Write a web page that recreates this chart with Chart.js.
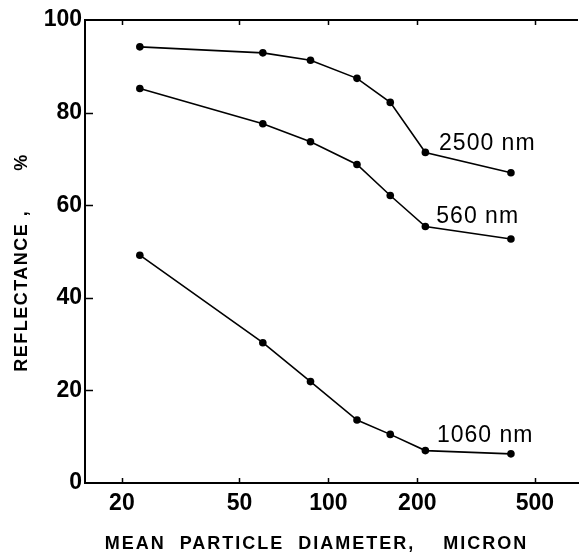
<!DOCTYPE html>
<html lang="en">
<head>
  <meta charset="UTF-8" />
  <title>Reflectance vs mean particle diameter</title>
  <script src="https://cdn.jsdelivr.net/npm/chart.js"></script>
  <style>
    html, body { margin: 0; padding: 0; background: #fff; }
  </style>
</head>
<body>
  <canvas id="reflChart" width="582" height="554"></canvas>

  <script>
    // mean particle diameter (micron), shared by all three curves
    const diameters = [23, 60, 87, 125, 162, 213, 415];

    // reflectance (%) per wavelength
    const refl2500 = [94.2, 92.9, 91.3, 87.4, 82.2, 71.4, 67.0];
    const refl560 = [85.2, 77.6, 73.7, 68.8, 62.1, 55.4, 52.7];
    const refl1060 = [49.2, 30.3, 21.9, 13.6, 10.5, 7.0, 6.3];

    const xTicks = [20, 50, 100, 200, 500];
    const yTicks = [0, 20, 40, 60, 80, 100];

    const xTitle = 'MEAN  PARTICLE  DIAMETER,    MICRON';
    const yTitle = 'REFLECTANCE ,      %';

    const FONT = '"Liberation Sans", Arial, sans-serif';

    function toPoints(ys) {
      return diameters.map((d, i) => ({ x: d, y: ys[i] }));
    }

    function curve(label, ys, tag) {
      return {
        label: label,
        data: toPoints(ys),
        tag: tag, // where the curve name sits, in data units
        borderColor: '#000',
        borderWidth: 1.6,
        pointRadius: 3.8,
        pointBackgroundColor: '#000',
        pointBorderWidth: 0,
        tension: 0
      };
    }

    // frame top line, inward tick marks, curve names and axis titles
    const paperFrame = {
      id: 'paperFrame',
      afterDraw(chart) {
        const { ctx, chartArea: a, scales: { x, y } } = chart;
        ctx.save();
        ctx.strokeStyle = '#000';
        ctx.fillStyle = '#000';

        ctx.lineWidth = 2;
        ctx.beginPath();
        ctx.moveTo(a.left - 1, a.top);
        ctx.lineTo(a.right, a.top);
        ctx.stroke();

        ctx.lineWidth = 1.5;
        ctx.beginPath();
        xTicks.forEach(v => {
          const px = Math.round(x.getPixelForValue(v)) + 0.5;
          ctx.moveTo(px, a.top);
          ctx.lineTo(px, a.top + 5);
          ctx.moveTo(px, a.bottom);
          ctx.lineTo(px, a.bottom - 5);
        });
        yTicks.slice(1, -1).forEach(v => {
          const py = Math.round(y.getPixelForValue(v)) + 0.5;
          ctx.moveTo(a.left, py);
          ctx.lineTo(a.left + 8, py);
        });
        ctx.stroke();

        ctx.font = '23px ' + FONT;
        ctx.textAlign = 'left';
        ctx.textBaseline = 'middle';
        ctx.letterSpacing = '1px';
        chart.data.datasets.forEach(ds => {
          ctx.fillText(ds.label, x.getPixelForValue(ds.tag.x), y.getPixelForValue(ds.tag.y));
        });

        ctx.font = 'bold 18px ' + FONT;
        ctx.textAlign = 'center';
        ctx.letterSpacing = '2px';
        ctx.fillText(xTitle, (a.left + a.right) / 2 - 15, 544);

        ctx.letterSpacing = '1.5px';
        ctx.translate(22, (a.top + a.bottom) / 2 + 11);
        ctx.rotate(-Math.PI / 2);
        ctx.fillText(yTitle, 0, 0);
        ctx.restore();
      }
    };

    const tickFont = { family: FONT, weight: 'bold', size: 23 };

    new Chart(document.getElementById('reflChart'), {
      type: 'line',
      data: {
        datasets: [
          curve('2500 nm', refl2500, { x: 237, y: 73.4 }),
          curve('560 nm', refl560, { x: 232, y: 57.5 }),
          curve('1060 nm', refl1060, { x: 233, y: 10.2 })
        ]
      },
      options: {
        responsive: false,
        animation: false,
        layout: { padding: { top: 20, right: 0, bottom: 0, left: 0 } },
        plugins: {
          legend: { display: false },
          tooltip: { enabled: false }
        },
        scales: {
          x: {
            type: 'logarithmic',
            min: 15,
            max: 700,
            afterBuildTicks: s => { s.ticks = xTicks.map(v => ({ value: v })); },
            afterFit: s => { s.height = 71; },
            ticks: {
              color: '#000',
              font: tickFont,
              padding: 7,
              maxRotation: 0,
              autoSkip: false,
              callback: v => String(v)
            },
            grid: { display: false, drawTicks: false },
            border: { color: '#000', width: 2 }
          },
          y: {
            min: 0,
            max: 100,
            afterBuildTicks: s => { s.ticks = yTicks.map(v => ({ value: v })); },
            afterFit: s => { s.width = 85; },
            ticks: {
              color: '#000',
              font: tickFont,
              padding: 3,
              callback: v => String(v)
            },
            grid: { display: false, drawTicks: false },
            border: { color: '#000', width: 2 }
          }
        }
      },
      plugins: [paperFrame]
    });
  </script>
</body>
</html>
